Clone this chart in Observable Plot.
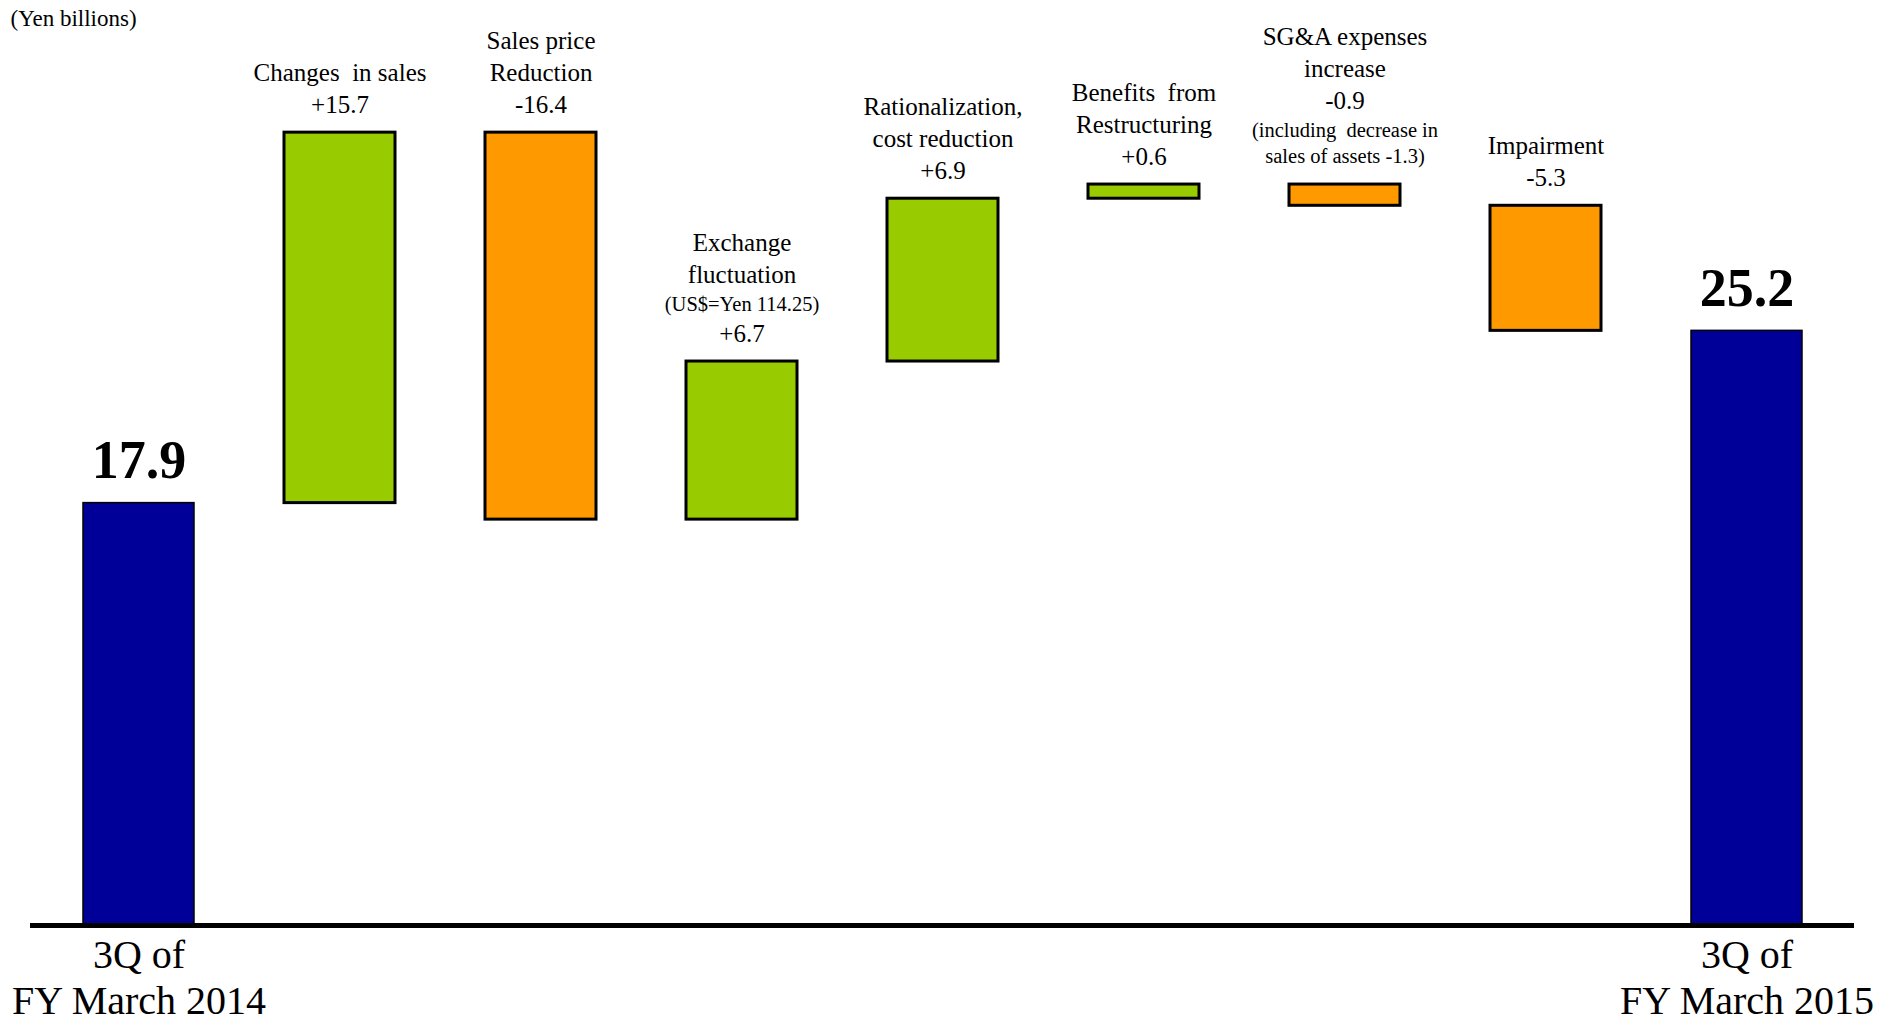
<!DOCTYPE html>
<html>
<head>
<meta charset="utf-8">
<script src="https://cdn.jsdelivr.net/npm/d3@7"></script>
<script src="https://cdn.jsdelivr.net/npm/@observablehq/plot@0.6"></script>
<style>
  html, body { margin: 0; padding: 0; background: #fff; }
  #chart { width: 1889px; height: 1023px; }
</style>
</head>
<body>
<div id="chart"></div>
<script>
// Operating income bridge: 3Q FY March 2014 -> 3Q FY March 2015 (Yen billions)
const steps = ["start", "sales", "price", "fx", "rational", "restruct", "sga", "impair", "end"];
const amounts = [17.9, 15.7, -16.4, 6.7, 6.9, 0.6, -0.9, -5.3, 25.2];
const kinds = ["total", "change", "change", "change", "change", "change", "change", "change", "total"];
const headings = ["", "Changes  in sales", "Sales price\nReduction", "Exchange\nfluctuation",
  "Rationalization,\ncost reduction", "Benefits  from\nRestructuring", "SG&A expenses\nincrease", "Impairment", ""];
const notes = ["", "", "", "(US$=Yen 114.25)", "", "", "(including  decrease in\nsales of assets -1.3)", "", ""];
const noteBelowValue = [false, false, false, false, false, false, true, false, false];
const periodLabels = ["3Q of\nFY March 2014", "", "", "", "", "", "", "", "3Q of\nFY March 2015"];
const unitLabel = "(Yen billions)";

const colors = {total: "#000099", up: "#99CC00", down: "#FF9900"};

// running totals -> floating bars
let running = 0;
const bars = steps.map((step, i) => {
  const a = amounts[i];
  let y1, y2;
  if (kinds[i] === "total") { y1 = 0; y2 = a; }
  else { y1 = running; y2 = running + a; }
  running = y2;
  return {
    step, y1, y2, amount: a, kind: kinds[i],
    top: Math.max(y1, y2),
    tone: kinds[i] === "total" ? "total" : (a >= 0 ? "up" : "down"),
    period: periodLabels[i]
  };
});

const fmt = v => (v > 0 ? "+" : "") + v.toFixed(1);

// stack the label lines above each change bar, bottom line first
const mainSize = 25, noteSize = 20.5, lead = 1.28;
const lines = [];
bars.forEach((b, i) => {
  if (b.kind !== "change") return;
  const valueLine = {text: fmt(b.amount), size: mainSize};
  const noteLines = notes[i] ? notes[i].split("\n").map(t => ({text: t, size: noteSize})) : [];
  const headLines = headings[i].split("\n").map(t => ({text: t, size: mainSize}));
  const order = noteBelowValue[i]
    ? [...headLines, valueLine, ...noteLines]
    : [...headLines, ...noteLines, valueLine];
  let off = 28;
  for (let k = order.length - 1; k >= 0; k--) {
    const ln = order[k];
    lines.push({step: b.step, top: b.top, text: ln.text, size: ln.size, off});
    if (k > 0) off += (ln.size + order[k - 1].size) / 2 * lead;
  }
});

const totals = bars.filter(d => d.kind === "total");

const chart = Plot.plot({
  width: 1889,
  height: 1023,
  marginLeft: 30,
  marginRight: 35,
  marginTop: 0,
  marginBottom: 98,
  style: {fontFamily: "'Liberation Serif', 'Times New Roman', serif", color: "#000", background: "#fff"},
  x: {domain: steps, paddingInner: 0.45, paddingOuter: 0.26, axis: null},
  y: {domain: [0, 39.2], range: [925, 0], axis: null},
  marks: [
    Plot.barY(bars, {
      x: "step", y1: "y1", y2: "y2",
      fill: d => colors[d.tone],
      stroke: "#000",
      strokeWidth: d => d.kind === "total" ? 1.5 : 3
    }),
    Plot.ruleY([0], {stroke: "#000", strokeWidth: 5}),
    Plot.text(totals, {
      x: "step", y: "top", text: d => d.amount.toFixed(1),
      fontSize: 54, fontWeight: "bold", lineAnchor: "middle", dy: -42
    }),
    Plot.text(totals, {
      x: "step", y: () => 0, text: "period",
      fontSize: 40, lineAnchor: "top", lineHeight: 1.15, dy: 10
    }),
    ...lines.map(l => Plot.text([l], {
      x: "step", y: "top", text: "text",
      fontSize: l.size, lineAnchor: "middle", dy: -l.off
    })),
    Plot.text([unitLabel], {
      frameAnchor: "top-left", textAnchor: "start", lineAnchor: "middle",
      dx: -20, dy: 18, fontSize: 23
    })
  ]
});

document.getElementById("chart").append(chart);
</script>
</body>
</html>
